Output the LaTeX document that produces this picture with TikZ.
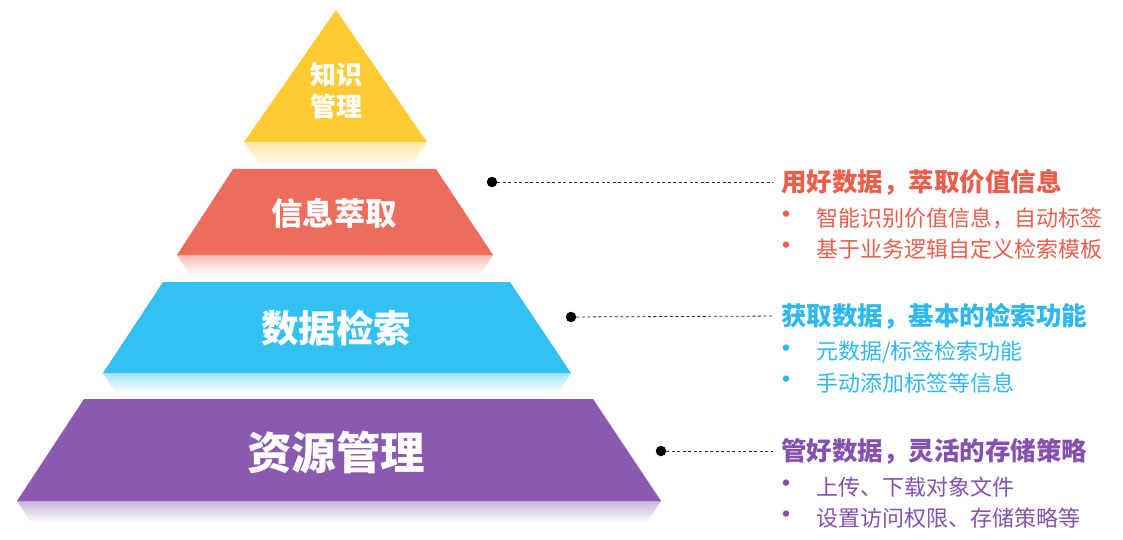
\documentclass[tikz,border=0pt]{standalone}
\usepackage{fontspec}
\newfontfamily\cjk{Noto Sans CJK SC}
\definecolor{cy}{HTML}{FFCA33}
\definecolor{cr}{HTML}{EE6C5B}
\definecolor{cb}{HTML}{33C0F3}
\definecolor{cp}{HTML}{8C59B0}
\definecolor{tr}{HTML}{EA5E4B}
\definecolor{tb}{HTML}{2DB8EF}
\definecolor{tp}{HTML}{8651AE}
\tikzset{
 heading/.style={anchor=west, inner sep=0pt, font=\cjk\bfseries\fontsize{25.5}{30}\selectfont},
 item/.style={anchor=west, inner sep=0pt, font=\cjk\fontsize{22}{26}\selectfont},
 bul/.style={inner sep=0pt, font=\cjk\fontsize{30}{32}\selectfont},
 dotnode/.style={circle, fill=black, inner sep=0pt, minimum size=10.5pt},
 leader/.style={dash pattern=on 3pt off 2.5pt, line width=0.8pt, draw=black!85, shorten >=8pt},
 layerlabel/.style={text=white, inner sep=0pt, align=center},
}
\begin{document}
\begin{tikzpicture}[x=1pt,y=1pt]
\useasboundingbox (0,0) rectangle (1123,-540);
% reflections
\shade[top color=cy!45, bottom color=white] (244,-142) -- (427,-142) -- (410,-167) -- (261,-167) -- cycle;
\shade[top color=cr!45, bottom color=white] (177,-255) -- (493,-255) -- (480,-275) -- (190,-275) -- cycle;
\shade[top color=cb!45, bottom color=white] (103,-373) -- (571,-373) -- (558,-393) -- (116,-393) -- cycle;
\shade[top color=cp!45, bottom color=white] (17,-501) -- (661,-501) -- (646.5,-523) -- (31.5,-523) -- cycle;
% layers
\fill[cy] (336,-10) -- (427,-142) -- (244,-142) -- cycle;
\fill[cr] (233,-169) -- (436,-169) -- (493,-255) -- (177,-255) -- cycle;
\fill[cb] (163,-282) -- (510,-282) -- (571,-373) -- (103,-373) -- cycle;
\fill[cp] (84,-399) -- (593,-399) -- (661,-501) -- (17,-501) -- cycle;
% layer labels
\node[layerlabel, font=\cjk\bfseries\fontsize{26}{32}\selectfont] (lk) at (336,-91) {知识\\管理};
\node[layerlabel, font=\cjk\bfseries\fontsize{31.5}{36}\selectfont] (lx) at (334,-213) {信息萃取};
\node[layerlabel, font=\cjk\bfseries\fontsize{37.5}{42}\selectfont] (ls) at (336,-328) {数据检索};
\node[layerlabel, font=\cjk\bfseries\fontsize{44.5}{50}\selectfont] (lz) at (336,-452) {资源管理};
% red group
\node[dotnode] (d1) at (492,-182) {};
\node[heading, text=tr] (h1) at (781,-182) {用好数据，萃取价值信息};
\draw[leader] (d1) -- (h1.west);
\node[bul, text=tr] (b11) at (786,-218) {•};
\node[item, text=tr] (t11) at (816,-218) {智能识别价值信息，自动标签};
\node[bul, text=tr] (b12) at (786,-249) {•};
\node[item, text=tr] (t12) at (816,-249) {基于业务逻辑自定义检索模板};
% blue group
\node[dotnode] (d2) at (571,-317) {};
\node[heading, text=tb] (h2) at (781,-316) {获取数据，基本的检索功能};
\draw[leader] (d2) -- (h2.west);
\node[bul, text=tb] (b21) at (786,-352) {•};
\node[item, text=tb] (t21) at (816,-352) {元数据/标签检索功能};
\node[bul, text=tb] (b22) at (786,-383) {•};
\node[item, text=tb] (t22) at (816,-383) {手动添加标签等信息};
% purple group
\node[dotnode] (d3) at (661,-451) {};
\node[heading, text=tp] (h3) at (781,-451) {管好数据，灵活的存储策略};
\draw[leader] (d3) -- (h3.west);
\node[bul, text=tp] (b31) at (786,-487) {•};
\node[item, text=tp] (t31) at (816,-487) {上传、下载对象文件};
\node[bul, text=tp] (b32) at (786,-518) {•};
\node[item, text=tp] (t32) at (816,-518) {设置访问权限、存储策略等};
\end{tikzpicture}
\end{document}
